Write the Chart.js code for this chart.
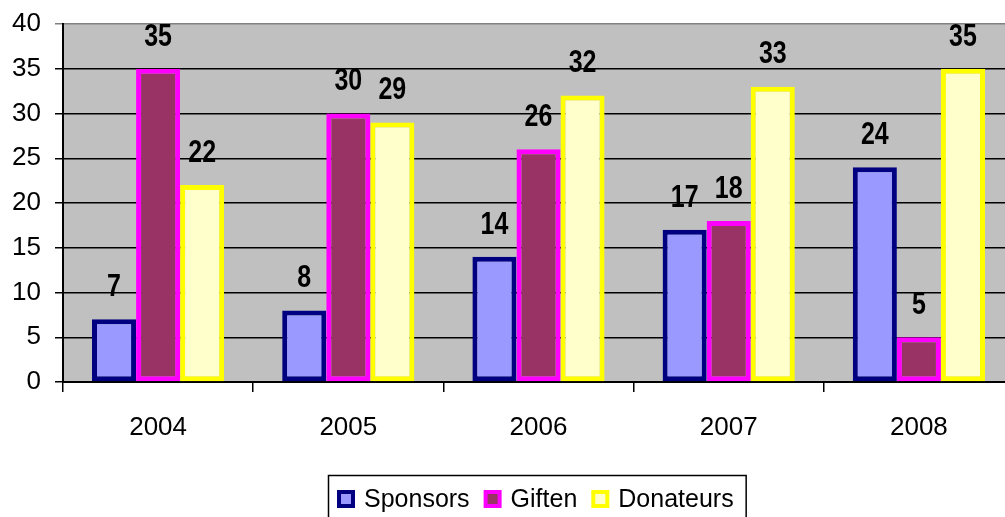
<!DOCTYPE html>
<html><head><meta charset="utf-8">
<script src="https://cdn.jsdelivr.net/npm/chart.js@4"></script>
<style>html,body{margin:0;padding:0;overflow:hidden;background:#fff}</style>
</head><body>
<canvas id="c" width="1020" height="517"></canvas>
<script>
const categories = ['2004', '2005', '2006', '2007', '2008'];
const sponsors = [7, 8, 14, 17, 24];
const giften = [35, 30, 26, 18, 5];
const donateurs = [22, 29, 32, 33, 35];
const seriesNames = ['Sponsors', 'Giften', 'Donateurs'];
const yMin = 0, yMax = 40, yStep = 5;

function hasFont(name) {
  const c = document.createElement('canvas').getContext('2d');
  c.font = 'bold 40px monospace';
  const a = c.measureText('3518abcW').width;
  c.font = 'bold 40px "' + name + '", monospace';
  return c.measureText('3518abcW').width !== a;
}
const narrowOK = hasFont('Liberation Sans Narrow');
const FONT = '"Liberation Sans", Arial, sans-serif';

const bgPlugin = {
  id: 'plotBg',
  beforeDraw(chart) {
    const {ctx, chartArea: a} = chart;
    ctx.save();
    ctx.fillStyle = '#c0c0c0';
    ctx.fillRect(a.left, a.top, a.right - a.left, a.bottom - a.top);
    ctx.restore();
  }
};

const labelPlugin = {
  id: 'valueLabels',
  afterDatasetsDraw(chart) {
    const ctx = chart.ctx;
    ctx.save();
    ctx.fillStyle = '#000';
    ctx.textAlign = 'center';
    ctx.textBaseline = 'middle';
    chart.data.datasets.forEach((ds, i) => {
      chart.getDatasetMeta(i).data.forEach((el, j) => {
        const txt = String(ds.data[j]);
        const x = el.x, y = el.y - 32;
        if (narrowOK) {
          ctx.font = 'bold 34px "Liberation Sans Narrow"';
          ctx.fillText(txt, x, y);
        } else {
          ctx.save();
          ctx.translate(x, y);
          ctx.scale(0.78, 1);
          ctx.font = 'bold 32px ' + FONT;
          ctx.fillText(txt, 0, 0);
          ctx.restore();
        }
      });
    });
    ctx.restore();
  }
};

const legendPlugin = {
  id: 'boxLegend',
  afterDraw(chart) {
    const {ctx, chartArea: a} = chart;
    const box = 18, gapText = 9, gapItem = 14, padL = 9, padR = 12;
    ctx.save();
    ctx.font = '25px ' + FONT;
    const dsets = chart.data.datasets;
    const widths = dsets.map(d => ctx.measureText(d.label).width);
    let total = padL + padR;
    widths.forEach((w, i) => { total += box + gapText + w + (i < widths.length - 1 ? gapItem : 0); });
    const cx = (a.left + a.right) / 2 - 2;
    const left = Math.round(cx - total / 2);
    const top = a.bottom + 93;
    const cy = top + 24;
    ctx.strokeStyle = '#000';
    ctx.lineWidth = 1.5;
    ctx.strokeRect(left + 0.5, top + 0.5, total, 80);
    let x = left + padL;
    dsets.forEach((d, i) => {
      ctx.fillStyle = d.borderColor;
      ctx.fillRect(x, cy - box / 2, box, box);
      ctx.fillStyle = d.backgroundColor;
      ctx.fillRect(x + 4, cy - box / 2 + 4, box - 8, box - 8);
      ctx.fillStyle = '#000';
      ctx.textAlign = 'left';
      ctx.textBaseline = 'middle';
      ctx.fillText(d.label, x + box + gapText, cy + 1);
      x += box + gapText + widths[i] + gapItem;
    });
    ctx.restore();
  }
};

new Chart(document.getElementById('c'), {
  type: 'bar',
  data: {
    labels: categories,
    datasets: [
      {label: seriesNames[0], data: sponsors, backgroundColor: '#9999ff', borderColor: '#000080'},
      {label: seriesNames[1], data: giften, backgroundColor: '#993366', borderColor: '#ff00ff'},
      {label: seriesNames[2], data: donateurs, backgroundColor: '#ffffcc', borderColor: '#ffff00'}
    ]
  },
  options: {
    responsive: false,
    animation: false,
    devicePixelRatio: 1,
    layout: {padding: {left: 0, top: 24, right: 6, bottom: 75}},
    datasets: {bar: {borderWidth: 5, borderSkipped: false, categoryPercentage: 0.695, barPercentage: 1}},
    plugins: {legend: {display: false}, tooltip: {enabled: false}},
    scales: {
      x: {
        offset: true,
        grid: {display: true, drawOnChartArea: false, drawTicks: true, tickLength: 10, color: '#000', lineWidth: 1.5},
        border: {display: true, color: '#000', width: 2},
        ticks: {color: '#000', font: {family: FONT, size: 26}, padding: 20, maxRotation: 0},
        afterFit(s) { s.height = 60; }
      },
      y: {
        min: yMin, max: yMax,
        grid: {
          color: c => (c.tick && c.tick.value === yMax) ? '#808080' : '#000',
          lineWidth: 1.5, tickLength: 8, drawTicks: true
        },
        border: {display: true, color: '#000', width: 2},
        ticks: {stepSize: yStep, color: '#000', font: {family: FONT, size: 26, lineHeight: 0.5}, padding: 14},
        afterFit(s) { s.width = 63; }
      }
    }
  },
  plugins: [bgPlugin, labelPlugin, legendPlugin]
});
</script>
</body></html>
